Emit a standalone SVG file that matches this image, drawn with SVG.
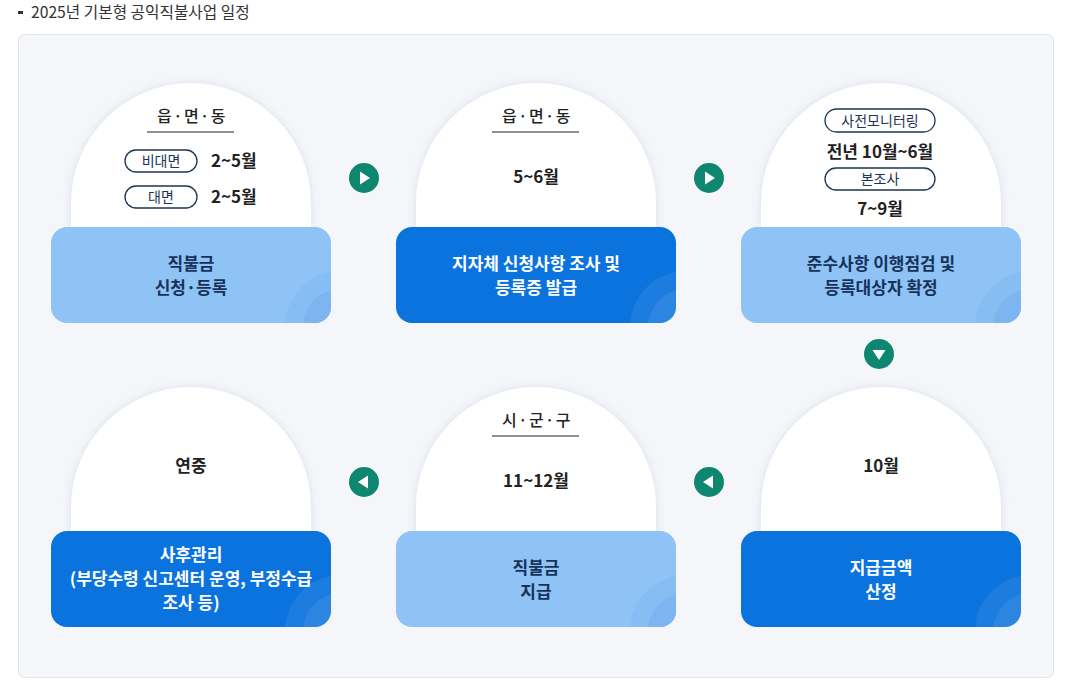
<svg xmlns="http://www.w3.org/2000/svg" width="1068" height="689" viewBox="0 0 1068 689">
<defs>
<style>
text{font-family:"Noto Sans CJK KR","Noto Sans",sans-serif;}
.title{font-size:15.7px;fill:#333;}
.hd{font-size:16px;font-weight:500;fill:#222;text-anchor:middle;letter-spacing:1.5px;}
.dt{font-size:17px;font-weight:700;fill:#222;}
.dtc{font-size:17px;font-weight:700;fill:#222;text-anchor:middle;}
.pill{fill:#fff;stroke:#1c3552;stroke-width:1.3;}
.pt{font-size:14px;fill:#1c3552;text-anchor:middle;}
.dome{fill:#fff;filter:url(#sh);}
.light{fill:#8fc3f5;}
.dark{fill:#0b73dd;}
.lt{font-size:17px;font-weight:700;fill:#17325a;text-anchor:middle;}
.wt{font-size:17px;font-weight:700;fill:#fff;text-anchor:middle;}
.ul{stroke:#222;stroke-width:1.2;}
.arr{fill:#0f8770;}
.ring1l{fill:#86bdf2;}
.ring2l{fill:#7cb5ef;}
.ring1d{fill:#ffffff;fill-opacity:0.07;}
.ring2d{fill:#ffffff;fill-opacity:0.07;}
</style>
<filter id="sh" x="-20%" y="-20%" width="140%" height="140%">
<feDropShadow dx="0" dy="0" stdDeviation="4" flood-color="#c9d2de" flood-opacity="0.6"/>
</filter>
<clipPath id="cb"><rect x="0" y="0" width="280" height="96" rx="16"/></clipPath>
<g id="ringsL" clip-path="url(#cb)">
<circle cx="290" cy="100" r="56" class="ring1l"/>
<circle cx="290" cy="100" r="38" class="ring2l"/>
</g>
<g id="ringsD" clip-path="url(#cb)">
<circle cx="290" cy="100" r="56" class="ring1d"/>
<circle cx="290" cy="100" r="38" class="ring2d"/>
</g>
</defs>
<rect width="1068" height="689" fill="#fff"/>
<g id="title">
<rect x="18" y="11" width="5" height="3" fill="#333"/>
<text x="31" y="18" class="title">2025년 기본형 공익직불사업 일정</text>
</g>
<rect id="panel" x="18.5" y="34.5" width="1035" height="643" rx="6" fill="#f4f6f9" stroke="#e1e5ea"/>

<g id="step1">
<path class="dome" d="M71 240 V203 A120 120 0 0 1 311 203 V240 Z"/>
<text x="192" y="122" class="hd">읍·면·동</text>
<line x1="147" y1="132" x2="234" y2="132" class="ul"/>
<rect x="125" y="150" width="72" height="22" rx="11" class="pill"/>
<text x="161" y="166" class="pt">비대면</text>
<text x="211" y="167" class="dt">2~5월</text>
<rect x="125" y="186" width="72" height="22" rx="11" class="pill"/>
<text x="161" y="202" class="pt">대면</text>
<text x="211" y="203" class="dt">2~5월</text>
<rect x="51" y="227" width="280" height="96" rx="16" class="light"/>
<use href="#ringsL" x="51" y="227"/>
<text x="191" y="270" class="lt">직불금</text>
<text x="191" y="294" class="lt">신청·등록</text>
</g>

<g id="step2">
<path class="dome" d="M416 240 V203 A120 120 0 0 1 656 203 V240 Z"/>
<text x="537" y="122" class="hd">읍·면·동</text>
<line x1="492" y1="132" x2="579" y2="132" class="ul"/>
<text x="536" y="183" class="dtc">5~6월</text>
<rect x="396" y="227" width="280" height="96" rx="16" class="dark"/>
<use href="#ringsD" x="396" y="227"/>
<text x="536" y="270" class="wt">지자체 신청사항 조사 및</text>
<text x="536" y="294" class="wt">등록증 발급</text>
</g>

<g id="step3">
<path class="dome" d="M761 240 V203 A120 120 0 0 1 1001 203 V240 Z"/>
<rect x="825" y="109" width="110" height="23" rx="11.5" class="pill"/>
<text x="880" y="126" class="pt">사전모니터링</text>
<text x="880" y="158" class="dtc">전년 10월~6월</text>
<rect x="825" y="168" width="110" height="22" rx="11" class="pill"/>
<text x="880" y="184" class="pt">본조사</text>
<text x="880" y="215" class="dtc">7~9월</text>
<rect x="741" y="227" width="280" height="96" rx="16" class="light"/>
<use href="#ringsL" x="741" y="227"/>
<text x="881" y="270" class="lt">준수사항 이행점검 및</text>
<text x="881" y="294" class="lt">등록대상자 확정</text>
</g>

<g id="step4">
<path class="dome" d="M761 544 V507 A120 120 0 0 1 1001 507 V544 Z"/>
<text x="881" y="472" class="dtc">10월</text>
<rect x="741" y="531" width="280" height="96" rx="16" class="dark"/>
<use href="#ringsD" x="741" y="531"/>
<text x="881" y="574" class="wt">지급금액</text>
<text x="881" y="598" class="wt">산정</text>
</g>

<g id="step5">
<path class="dome" d="M416 544 V507 A120 120 0 0 1 656 507 V544 Z"/>
<text x="537" y="426" class="hd">시·군·구</text>
<line x1="492" y1="436" x2="579" y2="436" class="ul"/>
<text x="536" y="487" class="dtc">11~12월</text>
<rect x="396" y="531" width="280" height="96" rx="16" class="light"/>
<use href="#ringsL" x="396" y="531"/>
<text x="536" y="574" class="lt">직불금</text>
<text x="536" y="598" class="lt">지급</text>
</g>

<g id="step6">
<path class="dome" d="M71 544 V507 A120 120 0 0 1 311 507 V544 Z"/>
<text x="191" y="472" class="dtc">연중</text>
<rect x="51" y="531" width="280" height="96" rx="16" class="dark"/>
<use href="#ringsD" x="51" y="531"/>
<text x="191" y="561" class="wt">사후관리</text>
<text x="191" y="585" class="wt">(부당수령 신고센터 운영, 부정수급</text>
<text x="191" y="609" class="wt">조사 등)</text>
</g>

<g id="connectors">
<circle cx="364" cy="178" r="15" class="arr"/>
<path d="M360 171.5 L370 178 L360 184.5 Z" fill="#fff"/>
<circle cx="709" cy="178" r="15" class="arr"/>
<path d="M705 171.5 L715 178 L705 184.5 Z" fill="#fff"/>
<circle cx="879" cy="354" r="15" class="arr"/>
<path d="M872.5 350 L879 360 L885.5 350 Z" fill="#fff"/>
<circle cx="709" cy="482" r="15" class="arr"/>
<path d="M713 475.5 L703 482 L713 488.5 Z" fill="#fff"/>
<circle cx="364" cy="482" r="15" class="arr"/>
<path d="M368 475.5 L358 482 L368 488.5 Z" fill="#fff"/>
</g>
</svg>
